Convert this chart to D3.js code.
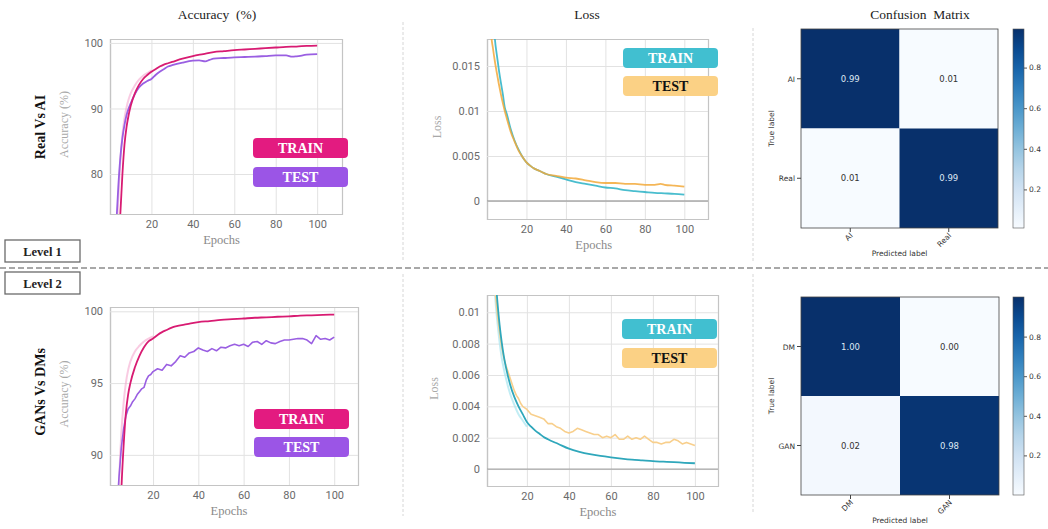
<!DOCTYPE html>
<html>
<head>
<meta charset="utf-8">
<script src="https://cdn.jsdelivr.net/npm/d3@7"></script>
<style>
  body { margin: 0; background: #fff; }
  svg text { font-family: "Liberation Serif", "Times New Roman", serif; }
  .tick text { font-family: Roboto, "Noto Sans", sans-serif; }
  .cm text { font-family: "DejaVu Sans", sans-serif; }
</style>
</head>
<body>
<svg id="fig" width="1048" height="529"></svg>
<script>
// ---- data ----
var epochsSmooth = [2,3,4,5,6,7,8,9,10,12,14,16,18,20,22,24,26,28,30,35,40,45,50,55,60,65,70,75,80,85,90,95,100];
var epochsRaw = [3,4,5,6,7,8,9,10,12,14,16,18,20];
var epochsTestA = [2,3,4,5,6,7,8,9,10,12,14,16,18,20,22,24,26,28,30,35,40,43,46,48,50,55,60,65,70,75,80,85,88,90,95,100];
var epochsLossTestA = [1,2,3,4,5,6,7,8,9,10,12,14,16,18,20,22,24,26,28,30,35,40,45,50,55,60,65,70,75,80,85,88,90,95,100];
var epochsNoisy = [3,4,5,6,7,8,9,10,11,12,13,14,15,16,17,18,19,20,22,24,26,28,30,32,34,36,38,40,42,44,46,48,50,52,54,56,58,60,62,64,66,68,70,72,74,76,78,80,82,84,86,88,90,92,94,96,98,100];

// Level 1 : Real Vs AI
var accTrainA = [60,65,69.5,74,80,84.5,87.2,89,90.4,92.3,93.6,94.5,95.1,95.6,96.0,96.4,96.7,96.9,97.1,97.6,98.0,98.3,98.6,98.75,98.9,99.0,99.1,99.2,99.3,99.4,99.45,99.55,99.6];
var accTrainRawA = [70,76,82,86,88.5,90.2,91.4,92.3,93.5,94.4,95.0,95.4,95.8];
var accTestA = [66,72,78,82.5,85.5,87.5,89,90,90.8,92.2,93.2,93.8,94.2,94.5,95.1,95.6,96.0,96.4,96.6,97.0,97.3,97.35,97.2,97.4,97.6,97.7,97.8,97.85,97.9,98.0,98.1,98.1,97.9,97.95,98.2,98.3];
var lossTrainA = [0.026,0.0215,0.018,0.0162,0.0146,0.0132,0.0119,0.0104,0.0097,0.0080,0.0067,0.0057,0.0049,0.0043,0.0039,0.0036,0.0034,0.0032,0.0030,0.0027,0.0024,0.0021,0.0019,0.0017,0.0015,0.0014,0.0012,0.0011,0.0010,0.0009,0.00085,0.0008,0.0007];
var lossTestA = [0.024,0.0188,0.0170,0.0155,0.0142,0.0130,0.0119,0.0109,0.0100,0.0092,0.0077,0.0066,0.0056,0.0049,0.0043,0.0039,0.0036,0.0034,0.0032,0.0030,0.0028,0.0026,0.0025,0.0023,0.0021,0.0020,0.0020,0.0019,0.0019,0.0018,0.0018,0.0019,0.0018,0.0017,0.0016];
var cmLabelsA = ["AI", "Real"];
var cmValuesA = [[0.99, 0.01], [0.01, 0.99]];

// Level 2 : GANs Vs DMs
var accTrainB = [60,70,77,83,87.5,90.6,92.9,94.2,95.0,96.1,96.9,97.5,97.9,98.1,98.35,98.55,98.7,98.85,98.95,99.1,99.25,99.32,99.4,99.45,99.5,99.55,99.58,99.62,99.65,99.7,99.72,99.75,99.77];
var accTrainRawB = [76,82,88,91.5,93.6,95,95.9,96.5,97.2,97.6,97.9,98.1,98.25];
var accTestB = [80,86,88.5,90.5,91.8,92.7,93.2,93.4,93.7,93.9,94.2,94.4,94.6,94.7,95.2,95.5,95.6,95.8,96.0,95.9,96.3,96.2,96.5,96.9,96.8,97.1,97.2,97.45,97.3,97.2,97.4,97.25,97.5,97.45,97.6,97.7,97.6,97.7,97.55,97.85,97.9,97.7,97.95,97.8,97.75,97.9,98.0,98.0,98.05,98.1,98.1,98.0,97.75,98.3,98.05,98.1,98.0,98.2];
var lossTrainB = [0.022,0.018,0.0148,0.0124,0.0106,0.0092,0.0081,0.0072,0.0065,0.0054,0.0046,0.0040,0.0035,0.0030,0.0027,0.00245,0.00225,0.00205,0.0019,0.0016,0.0013,0.0011,0.00095,0.00084,0.00075,0.00067,0.0006,0.00055,0.0005,0.00047,0.00044,0.0004,0.00037];
var lossTrainRawB = [0.016,0.013,0.0108,0.0093,0.0081,0.0071,0.0064,0.0058,0.0048,0.0041,0.0035,0.0031,0.0027];
var lossTestB = [0.016,0.0135,0.0112,0.0098,0.0087,0.0078,0.0071,0.0066,0.0062,0.0058,0.0054,0.0050,0.0047,0.0045,0.0042,0.0040,0.0039,0.0038,0.0035,0.0034,0.0033,0.0032,0.0029,0.0029,0.0027,0.0026,0.0024,0.0023,0.0024,0.0026,0.0025,0.0024,0.0023,0.0022,0.0022,0.0020,0.0021,0.0020,0.0022,0.0019,0.0019,0.0021,0.0019,0.0020,0.0019,0.0021,0.0019,0.0017,0.0017,0.0016,0.0017,0.0017,0.0019,0.0018,0.0016,0.0017,0.0016,0.0015];
var cmLabelsB = ["DM", "GAN"];
var cmValuesB = [[1.00, 0.00], [0.02, 0.98]];

var epochTicks = [20, 40, 60, 80, 100];
var cbTicks = [0.2, 0.4, 0.6, 0.8];

var svg = d3.select("#fig");
var clipId = 0;

function zip(xs, ys) { return xs.map(function(e, i) { return [e, ys[i]]; }); }

function linePanel(p) {
  var x = d3.scaleLinear().domain(p.xDomain).range([p.left, p.right]);
  var y = d3.scaleLinear().domain(p.yDomain).range([p.bottom, p.top]);
  var g = svg.append("g");

  var gx = g.append("g").attr("transform", "translate(0," + p.bottom + ")")
    .call(d3.axisBottom(x).tickValues(epochTicks).tickSize(-(p.bottom - p.top)).tickPadding(6));
  var gy = g.append("g").attr("transform", "translate(" + p.left + ",0)")
    .call(d3.axisLeft(y).tickValues(p.yTicks).tickFormat(p.yFormat).tickSize(-(p.right - p.left)).tickPadding(7));
  [gx, gy].forEach(function(a) {
    a.selectAll(".tick line").attr("stroke", "#e2e2e2");
    a.select(".domain").attr("stroke", "#c4c4c4").attr("stroke-width", 1.2);
    a.selectAll(".tick text").attr("fill", "#6a6a6a").attr("font-size", 11);
  });
  if (p.zeroLine) {
    g.append("line").attr("x1", p.left).attr("x2", p.right)
      .attr("y1", y(0)).attr("y2", y(0)).attr("stroke", "#a8a8a8").attr("stroke-width", 1.3);
  }

  var id = "clip" + (clipId++);
  g.append("clipPath").attr("id", id).append("rect")
    .attr("x", p.left).attr("y", p.top).attr("width", p.right - p.left).attr("height", p.bottom - p.top);
  var lines = g.append("g").attr("clip-path", "url(#" + id + ")");
  p.series.forEach(function(s) {
    var line = d3.line().x(function(d) { return x(d[0]); }).y(function(d) { return y(d[1]); })
      .curve(s.noisy ? d3.curveLinear : d3.curveMonotoneX);
    lines.append("path").datum(zip(s.epochs, s.values))
      .attr("d", line).attr("fill", "none").attr("stroke", s.color)
      .attr("stroke-width", s.width || 1.8).attr("stroke-opacity", s.opacity || 1)
      .attr("stroke-linejoin", "round");
  });

  p.legend.forEach(function(l, i) {
    var ly = p.legendTop + i * p.legendStep;
    g.append("rect").attr("x", p.legendLeft).attr("y", ly).attr("width", 95).attr("height", 20)
      .attr("rx", 4).attr("fill", l.fill);
    g.append("text").attr("x", p.legendLeft + 47.5).attr("y", ly + 15)
      .attr("text-anchor", "middle").attr("font-weight", "bold").attr("font-size", 14)
      .style("font-family", "'Liberation Serif', serif")
      .attr("fill", l.text).text(l.label);
  });

  g.append("text").attr("x", (x(0) + x(100)) / 2 + 8).attr("y", p.bottom + 30)
    .attr("text-anchor", "middle").attr("font-size", 12.5).attr("fill", "#8a8a8a").text("Epochs");
  g.append("text").attr("transform", "translate(" + p.yLabelX + "," + ((p.top + p.bottom) / 2 - 2) + ") rotate(-90)")
    .attr("text-anchor", "middle").attr("font-size", 12).attr("fill", "#a8a8a8").text(p.yLabel);
}

function matrixPanel(m) {
  var g = svg.append("g").attr("class", "cm");
  var n = m.labels.length;
  var bx = d3.scaleBand().domain(d3.range(n)).range([m.left, m.right]);
  var by = d3.scaleBand().domain(d3.range(n)).range([m.top, m.bottom]);
  var flat = [].concat.apply([], m.values);
  var color = d3.scaleSequential(d3.interpolateBlues).domain(d3.extent(flat));
  m.values.forEach(function(row, r) {
    row.forEach(function(v, c) {
      g.append("rect").attr("x", bx(c)).attr("y", by(r)).attr("width", bx.bandwidth()).attr("height", by.bandwidth())
        .attr("fill", color(v));
      g.append("text").attr("x", bx(c) + bx.bandwidth() / 2).attr("y", by(r) + by.bandwidth() / 2 + 3)
        .attr("text-anchor", "middle").attr("font-size", 8.5)
        .attr("fill", v > 0.5 ? "#dfe8f3" : "#333").text(v.toFixed(2));
    });
  });
  g.append("rect").attr("x", m.left).attr("y", m.top).attr("width", m.right - m.left).attr("height", m.bottom - m.top)
    .attr("fill", "none").attr("stroke", "#444").attr("stroke-width", 0.8);

  m.labels.forEach(function(lab, i) {
    var cy = by(i) + by.bandwidth() / 2;
    g.append("line").attr("x1", m.left - 4).attr("x2", m.left).attr("y1", cy).attr("y2", cy).attr("stroke", "#444");
    g.append("text").attr("x", m.left - 6).attr("y", cy + 3).attr("text-anchor", "end").attr("font-size", 7.5)
      .attr("fill", "#333").text(lab);
    var cx = bx(i) + bx.bandwidth() / 2;
    g.append("line").attr("x1", cx).attr("x2", cx).attr("y1", m.bottom).attr("y2", m.bottom + 4).attr("stroke", "#444");
    g.append("text").attr("transform", "translate(" + (cx + 3) + "," + (m.bottom + 8) + ") rotate(-45)")
      .attr("text-anchor", "end").attr("font-size", 7.5).attr("fill", "#333").text(lab);
  });
  g.append("text").attr("x", (m.left + m.right) / 2).attr("y", m.bottom + 28).attr("text-anchor", "middle")
    .attr("font-size", 7.5).attr("fill", "#333").text("Predicted label");
  g.append("text").attr("transform", "translate(" + (m.left - 27) + "," + ((m.top + m.bottom) / 2) + ") rotate(-90)")
    .attr("text-anchor", "middle").attr("font-size", 7.5).attr("fill", "#333").text("True label");

  // colour bar
  var gid = "grad" + (clipId++);
  var grad = svg.append("defs").append("linearGradient").attr("id", gid)
    .attr("x1", 0).attr("y1", 1).attr("x2", 0).attr("y2", 0);
  d3.range(0, 1.01, 0.1).forEach(function(t) {
    grad.append("stop").attr("offset", t).attr("stop-color", d3.interpolateBlues(t));
  });
  var cy = d3.scaleLinear().domain(d3.extent(flat)).range([m.bottom, m.top]);
  g.append("rect").attr("x", m.cbLeft).attr("y", m.top).attr("width", 11).attr("height", m.bottom - m.top)
    .attr("fill", "url(#" + gid + ")").attr("stroke", "#555").attr("stroke-width", 0.6);
  var ga = g.append("g").attr("transform", "translate(" + (m.cbLeft + 11) + ",0)")
    .call(d3.axisRight(cy).tickValues(cbTicks).tickSize(3).tickPadding(2));
  ga.select(".domain").remove();
  ga.selectAll(".tick line").attr("stroke", "#555");
  ga.selectAll(".tick text").attr("font-size", 7.5).attr("fill", "#333")
    .style("font-family", "'DejaVu Sans', sans-serif");
}

// ---- layout ----
svg.append("rect").attr("width", 1048).attr("height", 529).attr("fill", "#fff");

[["Accuracy  (%)", 217], ["Loss", 587], ["Confusion  Matrix", 920]].forEach(function(t) {
  svg.append("text").attr("x", t[1]).attr("y", 19).attr("text-anchor", "middle")
    .attr("font-size", 13.5).attr("fill", "#222").style("white-space", "pre").text(t[0]);
});

// separators
[[403, 22, 262], [403, 274, 516], [753, 28, 262], [753, 274, 512]].forEach(function(s) {
  svg.append("line").attr("x1", s[0]).attr("x2", s[0]).attr("y1", s[1]).attr("y2", s[2])
    .attr("stroke", "#d6d6d6").attr("stroke-dasharray", "3,2");
});
svg.append("line").attr("x1", 0).attr("x2", 1048).attr("y1", 268).attr("y2", 268)
  .attr("stroke", "#8c8c8c").attr("stroke-width", 1.3).attr("stroke-dasharray", "6,3");

[["Level 1", 240], ["Level 2", 272]].forEach(function(l) {
  svg.append("rect").attr("x", 5).attr("y", l[1]).attr("width", 75).attr("height", 22)
    .attr("fill", "#fff").attr("stroke", "#6a6a6a").attr("stroke-width", 1.3);
  svg.append("text").attr("x", 42.5).attr("y", l[1] + 15.5).attr("text-anchor", "middle")
    .attr("font-weight", "bold").attr("font-size", 12.5).attr("fill", "#222").text(l[0]);
});

[["Real Vs AI", 127], ["GANs Vs DMs", 392]].forEach(function(r) {
  svg.append("text").attr("transform", "translate(45," + r[1] + ") rotate(-90)").attr("text-anchor", "middle")
    .attr("font-weight", "bold").attr("font-size", 14).attr("fill", "#111").text(r[0]);
});

var pinkLine = "#d81b72", pinkBox = "#e31b80", pinkRaw = "#f5a9cf";
var purpleLine = "#9a5fe2", purpleBox = "#9b55e6";
var tealLine = "#35b6c9", tealBox = "#41bfd0", tealRaw = "#a8e6f0";
var orangeLine = "#f2a93a", orangeBox = "#fbd185", orangeRaw = "#f8cf8c";

linePanel({
  left: 110, right: 342, top: 39, bottom: 214, xDomain: [0, 112], yDomain: [73.9, 100.6],
  yTicks: [80, 90, 100], yFormat: d3.format("d"), yLabel: "Accuracy (%)", yLabelX: 68,
  series: [
    { epochs: epochsRaw, values: accTrainRawA, color: pinkRaw, width: 2, opacity: 0.6 },
    { epochs: epochsTestA, values: accTestA, color: purpleLine },
    { epochs: epochsSmooth, values: accTrainA, color: pinkLine }
  ],
  legend: [{ label: "TRAIN", fill: pinkBox, text: "#fff" }, { label: "TEST", fill: purpleBox, text: "#fff" }],
  legendLeft: 253, legendTop: 138, legendStep: 29
});

linePanel({
  left: 487, right: 708, top: 39, bottom: 219, xDomain: [0, 112], yDomain: [-0.002, 0.018],
  yTicks: [0, 0.005, 0.01, 0.015], yFormat: function(d) { return d === 0 ? "0" : String(d); },
  yLabel: "Loss", yLabelX: 441, zeroLine: true,
  series: [
    { epochs: epochsSmooth, values: lossTrainA, color: tealLine, opacity: 0.9 },
    { epochs: epochsLossTestA, values: lossTestA, color: orangeLine, opacity: 0.85 }
  ],
  legend: [{ label: "TRAIN", fill: tealBox, text: "#fff" }, { label: "TEST", fill: orangeBox, text: "#111" }],
  legendLeft: 623, legendTop: 48, legendStep: 28
});

matrixPanel({ left: 801, right: 998, top: 29, bottom: 228, cbLeft: 1013, labels: cmLabelsA, values: cmValuesA });

linePanel({
  left: 110, right: 358, top: 307, bottom: 485, xDomain: [1, 110.5], yDomain: [87.9, 100.3],
  yTicks: [90, 95, 100], yFormat: d3.format("d"), yLabel: "Accuracy (%)", yLabelX: 68,
  series: [
    { epochs: epochsRaw, values: accTrainRawB, color: pinkRaw, width: 2, opacity: 0.6 },
    { epochs: epochsNoisy, values: accTestB, color: purpleLine, noisy: true, width: 1.6 },
    { epochs: epochsSmooth, values: accTrainB, color: pinkLine }
  ],
  legend: [{ label: "TRAIN", fill: pinkBox, text: "#fff" }, { label: "TEST", fill: purpleBox, text: "#fff" }],
  legendLeft: 254, legendTop: 409, legendStep: 28
});

linePanel({
  left: 487, right: 718, top: 295, bottom: 486, xDomain: [1, 111], yDomain: [-0.00108, 0.0111],
  yTicks: [0, 0.002, 0.004, 0.006, 0.008, 0.01], yFormat: function(d) { return d === 0 ? "0" : d3.format(".3~f")(d); },
  yLabel: "Loss", yLabelX: 438, zeroLine: true,
  series: [
    { epochs: epochsRaw, values: lossTrainRawB, color: tealRaw, width: 2, opacity: 0.7 },
    { epochs: epochsNoisy, values: lossTestB, color: orangeRaw, noisy: true, width: 1.6 },
    { epochs: epochsSmooth, values: lossTrainB, color: "#2fa7bb" }
  ],
  legend: [{ label: "TRAIN", fill: tealBox, text: "#fff" }, { label: "TEST", fill: orangeBox, text: "#111" }],
  legendLeft: 622, legendTop: 319, legendStep: 29
});

matrixPanel({ left: 801, right: 999, top: 297, bottom: 495, cbLeft: 1013, labels: cmLabelsB, values: cmValuesB });
</script>
</body>
</html>
